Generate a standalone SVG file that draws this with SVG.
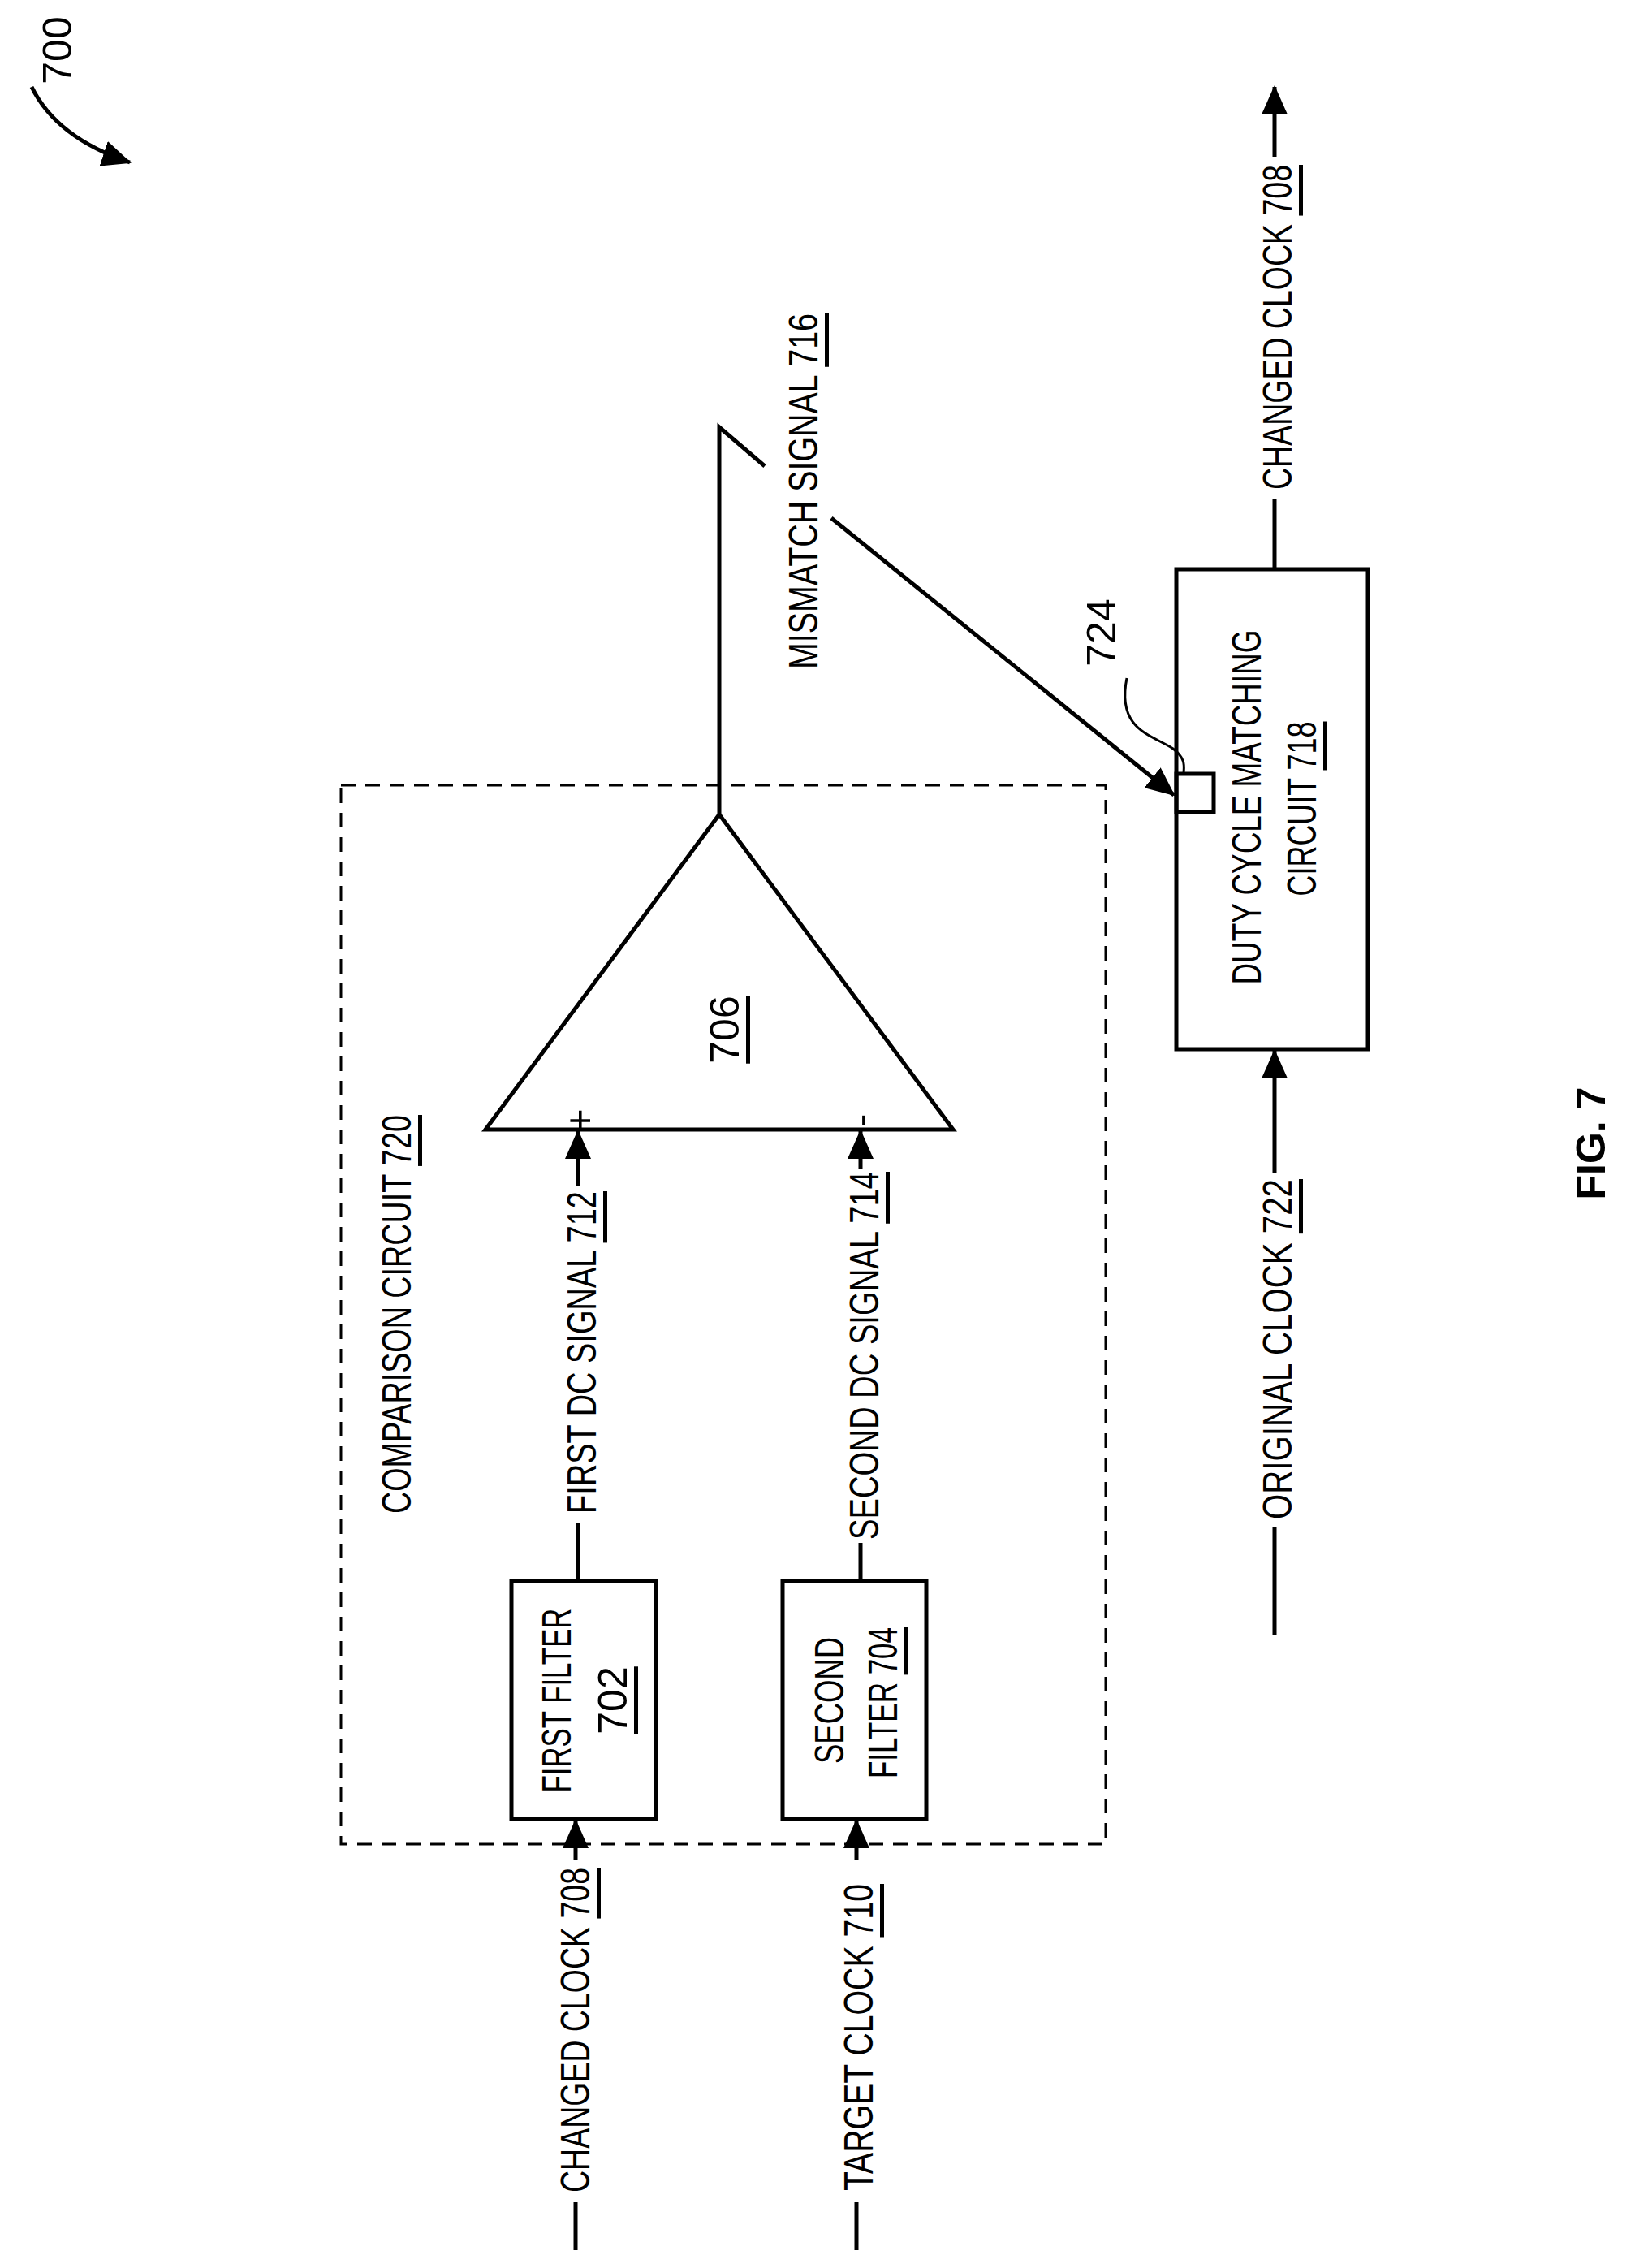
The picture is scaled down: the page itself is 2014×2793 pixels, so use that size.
<svg xmlns="http://www.w3.org/2000/svg" width="2014" height="2793" viewBox="0 0 2014 2793">
<style>
.l{fill:none;stroke:#000;stroke-width:5}
.t{font-family:"Liberation Sans",sans-serif;font-size:50px;fill:#000;dominant-baseline:central}
.u{text-decoration:underline}
</style>
<defs>
<marker id="b" viewBox="0 0 36 32" refX="34" refY="16" markerWidth="36" markerHeight="32" orient="auto" markerUnits="userSpaceOnUse"><path d="M0,0 L36,16 L0,32 Z"/></marker>
</defs>
<g id="connectors">
<path class="l" d="M709,2771 V2712"/><path class="l" d="M709,2290 V2242" marker-end="url(#b)"/>
<path class="l" d="M1055,2771 V2712"/><path class="l" d="M1055,2290 V2242" marker-end="url(#b)"/>
<path class="l" d="M712,1947 V1876"/><path class="l" d="M712,1460 V1393" marker-end="url(#b)"/>
<path class="l" d="M1060,1947 V1900"/><path class="l" d="M1060,1440 V1393" marker-end="url(#b)"/>
<path class="l" d="M886,1003 V526 L942,574"/>
<path class="l" d="M1024,638 L1446,979" marker-end="url(#b)"/>
<path class="l" d="M1570,701 V614"/><path class="l" d="M1570,193 V107" marker-end="url(#b)"/>
<path class="l" d="M1570,2014 V1880"/><path class="l" d="M1570,1445 V1294" marker-end="url(#b)"/>
<path fill="none" stroke="#000" stroke-width="3" d="M1388,835 C1375,900 1420,905 1445,922 C1462,935 1458,945 1458,953"/>
<path class="l" d="M39,107 C60,150 100,180 160,200" marker-end="url(#b)"/>
</g>
<g id="comparison720">
<rect x="420" y="967" width="942" height="1304" fill="none" stroke="#000" stroke-width="3" stroke-dasharray="18,12"/>
<text class="t" transform="translate(489,1864) rotate(-90)" textLength="491" lengthAdjust="spacingAndGlyphs">COMPARISON CIRCUIT <tspan class="u">720</tspan></text>
</g>
<g id="filter702">
<rect x="630" y="1947" width="178" height="293" class="l"/>
<text class="t" transform="translate(686,2094) rotate(-90)" text-anchor="middle" textLength="227" lengthAdjust="spacingAndGlyphs">FIRST FILTER</text>
<text class="t u" transform="translate(755,2094) rotate(-90)" text-anchor="middle">702</text>
</g>
<g id="filter704">
<rect x="964" y="1947" width="177" height="293" class="l"/>
<text class="t" transform="translate(1022,2094) rotate(-90)" text-anchor="middle" textLength="156" lengthAdjust="spacingAndGlyphs">SECOND</text>
<text class="t" transform="translate(1088,2097) rotate(-90)" text-anchor="middle" textLength="186" lengthAdjust="spacingAndGlyphs">FILTER <tspan class="u">704</tspan></text>
</g>
<g id="amp706">
<path class="l" d="M886,1003 L1174,1391 L598,1391 Z"/>
<text class="t u" transform="translate(893,1268) rotate(-90)" text-anchor="middle">706</text>
<text class="t" transform="translate(714,1380) rotate(-90)" text-anchor="middle" font-size="36">+</text>
<text class="t" transform="translate(1060,1380) rotate(-90)" text-anchor="middle" font-size="36">-</text>
</g>
<g id="dcm718">
<rect x="1449" y="701" width="236" height="591" class="l"/>
<rect x="1449" y="953" width="46" height="47" class="l"/>
<text class="t" transform="translate(1536,994) rotate(-90)" text-anchor="middle" textLength="437" lengthAdjust="spacingAndGlyphs">DUTY CYCLE MATCHING</text>
<text class="t" transform="translate(1604,996) rotate(-90)" text-anchor="middle" textLength="215" lengthAdjust="spacingAndGlyphs">CIRCUIT <tspan class="u">718</tspan></text>
<text class="t" transform="translate(1357,779) rotate(-90)" text-anchor="middle">724</text>
</g>
<g id="labels">
<text class="t" transform="translate(709,2700) rotate(-90)" textLength="400" lengthAdjust="spacingAndGlyphs">CHANGED CLOCK <tspan class="u">708</tspan></text>
<text class="t" transform="translate(1058,2698) rotate(-90)" textLength="378" lengthAdjust="spacingAndGlyphs">TARGET CLOCK <tspan class="u">710</tspan></text>
<text class="t" transform="translate(717,1864) rotate(-90)" textLength="397" lengthAdjust="spacingAndGlyphs">FIRST DC SIGNAL <tspan class="u">712</tspan></text>
<text class="t" transform="translate(1065,1896) rotate(-90)" textLength="453" lengthAdjust="spacingAndGlyphs">SECOND DC SIGNAL <tspan class="u">714</tspan></text>
<text class="t" transform="translate(990,824) rotate(-90)" textLength="438" lengthAdjust="spacingAndGlyphs">MISMATCH SIGNAL <tspan class="u">716</tspan></text>
<text class="t" transform="translate(1574,603) rotate(-90)" textLength="400" lengthAdjust="spacingAndGlyphs">CHANGED CLOCK <tspan class="u">708</tspan></text>
<text class="t" transform="translate(1574,1871) rotate(-90)" textLength="419" lengthAdjust="spacingAndGlyphs">ORIGINAL CLOCK <tspan class="u">722</tspan></text>
<text class="t" transform="translate(71,62) rotate(-90)" text-anchor="middle">700</text>
<text class="t" transform="translate(1960,1408) rotate(-90)" text-anchor="middle" font-weight="bold" font-size="60">FIG. 7</text>
</g>
</svg>
